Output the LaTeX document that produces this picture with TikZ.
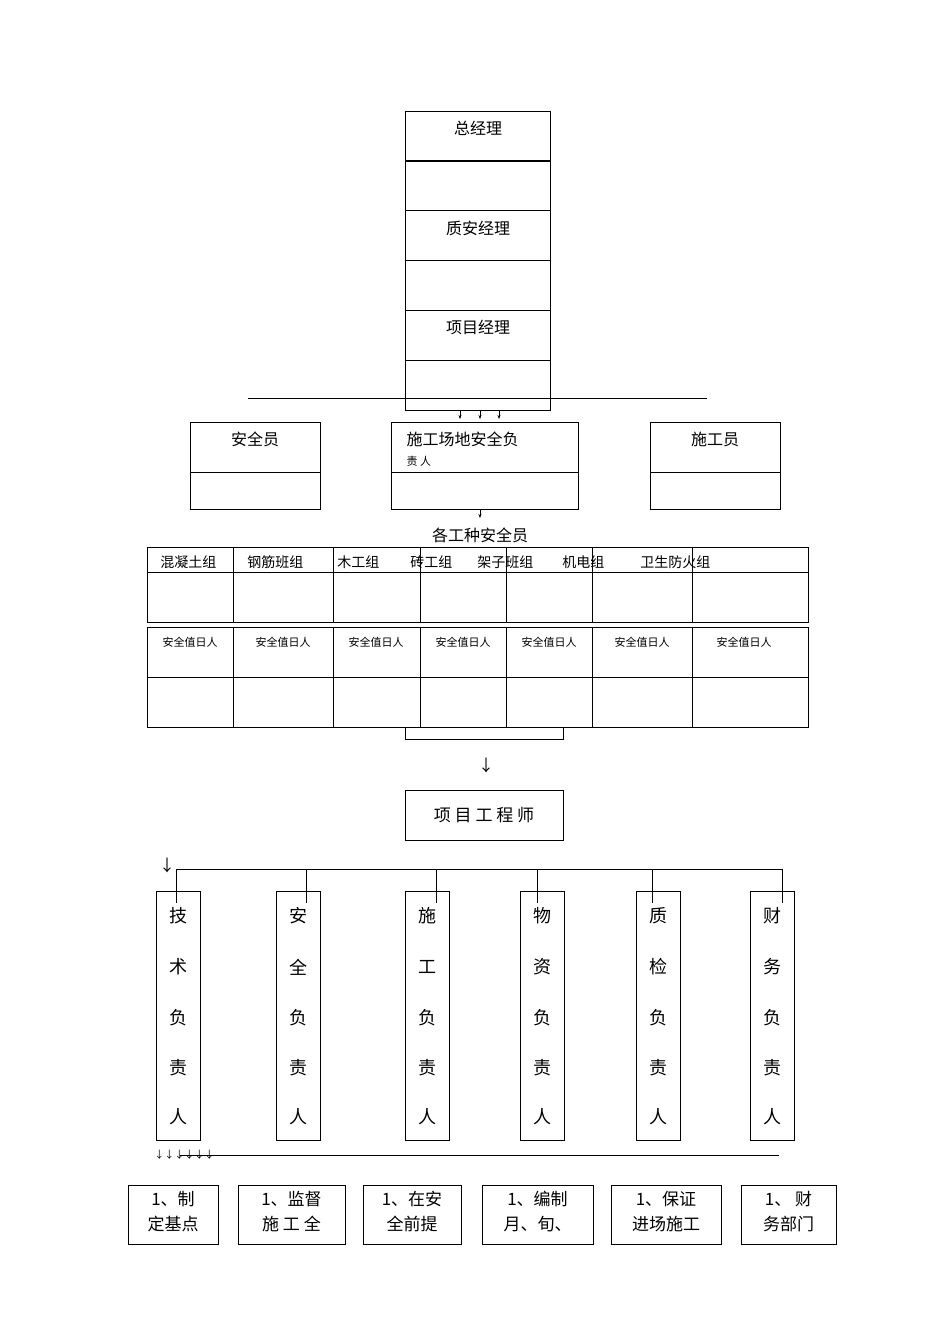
\documentclass[tikz,border=0pt]{standalone}
\usepackage{fontspec}
\usetikzlibrary{arrows.meta}
\setmainfont{Noto Sans CJK SC}
\begin{document}
\begin{tikzpicture}[x=1pt,y=-1pt,line width=0.8pt,
 bx/.style={draw,rectangle,inner sep=0pt},
 t/.style={font=\fontsize{16}{16}\selectfont},
 ts/.style={font=\fontsize{11}{11}\selectfont},
 ar/.style={-{Stealth[length=4pt,width=3pt]},line width=0.5pt}]
\useasboundingbox (0,0) rectangle (950,1344);
% top stack
\foreach \y/\n in {111/a1,160/a2,210/a3,260/a4,310/a5,360/a6}
  \draw (405,\y) rectangle (550,\y+50) coordinate (\n);
\node[t] (gm) at (478,128) {总经理};
\node[t] (qm) at (478,228) {质安经理};
\node[t] (pm) at (478,327) {项目经理};
\draw (248,398) -- (707,398);
\foreach \x in {460,480,499} \draw[ar] (\x,410) -- (\x,419);
% row 2
\draw (190,422) rectangle (320,472); \draw (190,472) rectangle (320,509);
\draw (391,422) rectangle (578,472); \draw (391,472) rectangle (578,509);
\draw (650,422) rectangle (780,472); \draw (650,472) rectangle (780,509);
\node[t] (s1) at (255,439) {安全员};
\node[t,anchor=west] (s2) at (403,439) {施工场地安全负};
\node[ts,anchor=west] (s2b) at (403,461) {责 人};
\node[t] (s3) at (715,439) {施工员};
\draw[ar] (480,509) -- (480,518);
\node[t] (gz) at (480,535) {各工种安全员};
% tables
\draw (147,547) rectangle (808,622); \draw (147,572) -- (808,572);
\draw (147,627) rectangle (808,727); \draw (147,677) -- (808,677);
\foreach \x in {233,333,420,506,592,692} {\draw (\x,547) -- (\x,622); \draw (\x,627) -- (\x,727);}
\foreach \x/\s in {160/混凝土组,247/钢筋班组,337/木工组,410/砖工组,477/架子班组,562/机电组,640/卫生防火组}
  \node[font=\fontsize{14}{14}\selectfont,anchor=west,inner sep=0pt] at (\x,562) {\s};
\foreach \x in {190,283,376,463,549,642,744}
  \node[font=\fontsize{11}{11}\selectfont] at (\x,642) {安全值日人};
\draw (405,727) -- (405,739) -- (563,739) -- (563,727);
\node[t] (d1) at (486,765) {↓};
\node[bx,minimum width=158pt,minimum height=50pt,font=\fontsize{17}{17}\selectfont] (pe) at (484,815) {项 目 工 程 师};
% verticals
\node[t] at (167,865) {↓};
\draw (176,869) -- (782,869);
\foreach \bx/\vx/\a/\b in {156/176/技/术,276/306/安/全,405/436/施/工,520/537/物/资,636/652/质/检,750/782/财/务}{
  \draw (\bx,891) rectangle (\bx+44,1140);
  \draw (\vx,869) -- (\vx,903);
  \foreach \c/\yy in {\a/916,\b/967,负/1018,责/1068,人/1117}
    \node[font=\fontsize{18}{18}\selectfont] at (\bx+22,\yy) {\c};
}
\node[font=\fontsize{10}{10}\selectfont,anchor=west,inner sep=0pt] at (154,1155) {↓↓↓↓↓↓};
\draw (180,1155) -- (779,1155);
% bottom boxes
\foreach \l/\r/\p/\q in {128/218/{1、制}/{定基点},238/345/{1、监督}/{施 工 全},363/461/{1、在安}/{全前提},482/593/{1、编制}/{月、旬、},611/721/{1、保证}/{进场施工},741/836/{1、 财}/{务部门}}{
  \draw (\l,1185) rectangle (\r,1244);
  \node[font=\fontsize{17}{17}\selectfont] at ({(\l+\r)/2},1199) {\p};
  \node[font=\fontsize{17}{17}\selectfont] at ({(\l+\r)/2},1224) {\q};
}
\end{tikzpicture}
\end{document}
